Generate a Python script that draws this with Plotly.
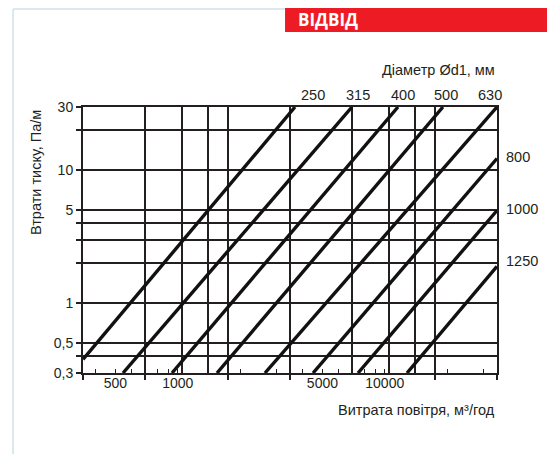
import math
import plotly.graph_objects as go

# ---- data ----
diameters = ["250", "315", "400", "500", "630", "800", "1000", "1250"]
# two end points of each straight (log-log) line: air flow m3/h and pressure loss Pa/m
q_start = [333.3, 520, 897, 1480, 2523, 4307, 7103, 12247]
dp_start = [0.38, 0.3, 0.3, 0.3, 0.3, 0.3, 0.3, 0.3]
q_end = [3524, 6643, 11081, 18270, 33333, 33333, 33333, 33333]
dp_end = [30, 30, 30, 30, 30, 12.3, 5.0, 1.9]

# grid values (x grid at multiples of 1000/3)
x_grid_major = [333.33, 666.67, 1666.67, 3333.33, 16666.67, 33333.33]
x_grid_minor = [1000, 1333.33, 6666.67, 10000, 13333.33]
x_tick_vals = [400, 500, 600, 700, 800, 900, 1000, 2000, 3000, 4000, 5000,
               6000, 7000, 8000, 9000, 10000, 20000, 30000]
x_tick_labels = {500: "500", 1000: "1000", 5000: "5000", 10000: "10000"}
y_tick_vals = [0.3, 0.5, 1, 5, 10, 30]
y_tick_text = ["0,3", "0,5", "1", "5", "10", "30"]
y_grid_minor = [0.4, 2, 3, 4, 20]

INK = "#231f20"
FONT = "Liberation Sans, Arial, sans-serif"

fig = go.Figure()
for i, d in enumerate(diameters):
    fig.add_trace(go.Scatter(
        x=[q_start[i], q_end[i]], y=[dp_start[i], dp_end[i]],
        mode="lines", line=dict(color="#111111", width=3.4),
        name=d, showlegend=False, hoverinfo="skip"))

# invisible trace on the overlaid tick axis
fig.add_trace(go.Scatter(x=[1000], y=[1], xaxis="x2", mode="markers",
                         marker=dict(opacity=0), showlegend=False, hoverinfo="skip"))

xr = [math.log10(333.333), math.log10(33333.33)]
shift = 4 / 207.0
fig.update_layout(
    width=547, height=446,
    margin=dict(l=75, r=58, t=99, b=81),
    paper_bgcolor="white", plot_bgcolor="white",
    font=dict(family=FONT, size=14, color=INK),
    xaxis=dict(type="log", range=xr, tickmode="array", tickvals=x_grid_major,
               ticktext=["" for _ in x_grid_major], ticks="outside", ticklen=5,
               tickwidth=1.5, tickcolor=INK, showgrid=True, gridcolor=INK,
               gridwidth=1.5, showline=True, mirror=True, linecolor=INK,
               linewidth=2, zeroline=False,
               minor=dict(tickmode="array", tickvals=x_grid_minor, ticks="",
                          showgrid=True, gridcolor=INK, gridwidth=1.5)),
    xaxis2=dict(type="log", range=[xr[0] + shift, xr[1] + shift], overlaying="x",
                anchor="y", side="bottom", tickmode="array", tickvals=x_tick_vals,
                ticktext=[x_tick_labels.get(v, "") for v in x_tick_vals],
                ticks="inside", ticklen=4, tickwidth=1.3, tickcolor=INK,
                showgrid=False, showline=False, zeroline=False,
                tickfont=dict(size=14, color=INK, family=FONT)),
    yaxis=dict(type="log", range=[math.log10(0.3), math.log10(30)], tickmode="array",
               tickvals=y_tick_vals, ticktext=y_tick_text, ticks="outside", ticklen=5,
               tickwidth=1.5, tickcolor=INK, showgrid=True, gridcolor=INK,
               gridwidth=1.5, showline=True, mirror=True, linecolor=INK,
               linewidth=2, zeroline=False,
               tickfont=dict(size=14, color=INK, family=FONT),
               minor=dict(tickmode="array", tickvals=y_grid_minor, ticks="outside",
                          ticklen=5, tickwidth=1.5, tickcolor=INK,
                          showgrid=True, gridcolor=INK, gridwidth=1.5)),
)

# page frame and red title block
frame = "#cfe1ea"
fig.add_shape(type="line", xref="paper", yref="paper", x0=-0.169, x1=-0.169,
              y0=1.368, y1=-0.31, line=dict(color=frame, width=1.5))
fig.add_shape(type="line", xref="paper", yref="paper", x0=-0.169, x1=1.14,
              y0=1.368, y1=1.368, line=dict(color=frame, width=1.5))
fig.add_shape(type="line", xref="paper", yref="paper", x0=1.123, x1=1.123,
              y0=1.368, y1=-0.31, line=dict(color=frame, width=1.5))
fig.add_shape(type="rect", xref="paper", yref="paper", x0=0.488, x1=1.15,
              y0=1.282, y1=1.375, fillcolor="#ed1c24", line=dict(width=0))
fig.add_annotation(text="<b>ВІДВІД</b>", xref="paper", yref="paper", x=0.515,
                   y=1.3275, xanchor="left", yanchor="middle", showarrow=False,
                   font=dict(family="Open Sans, Noto Sans, sans-serif", size=17,
                             color="white"))

# axis titles
fig.add_annotation(text="Втрати тиску, Па/м", xref="paper", yref="paper",
                   x=-0.1135, y=0.752, textangle=-90, showarrow=False,
                   xanchor="center", yanchor="middle", font=dict(size=14.5))
fig.add_annotation(text="Витрата повітря, м³/год", xref="paper", yref="paper",
                   x=1.0, y=-0.139, xanchor="right", yanchor="middle",
                   showarrow=False, font=dict(size=14.5))
fig.add_annotation(text="Діаметр Ød1, мм", xref="paper", yref="paper",
                   x=1.0, y=1.139, xanchor="right", yanchor="middle",
                   showarrow=False, font=dict(size=14.5))

# diameter labels
top_shift = [18, 6, 5, 3, -7]
for i in range(5):
    fig.add_annotation(text=diameters[i], x=math.log10(q_end[i]), xref="x",
                       yref="paper", y=1.045, xshift=top_shift[i],
                       xanchor="center", yanchor="middle", showarrow=False,
                       font=dict(size=14.5))
right_shift = [2, 1, 5]
for j, i in enumerate(range(5, 8)):
    fig.add_annotation(text=diameters[i], xref="paper", x=1.0, xshift=7,
                       y=math.log10(dp_end[i]), yref="y", yshift=right_shift[j],
                       xanchor="left", yanchor="middle", showarrow=False,
                       font=dict(size=14.5))

fig.write_html("out.html")
